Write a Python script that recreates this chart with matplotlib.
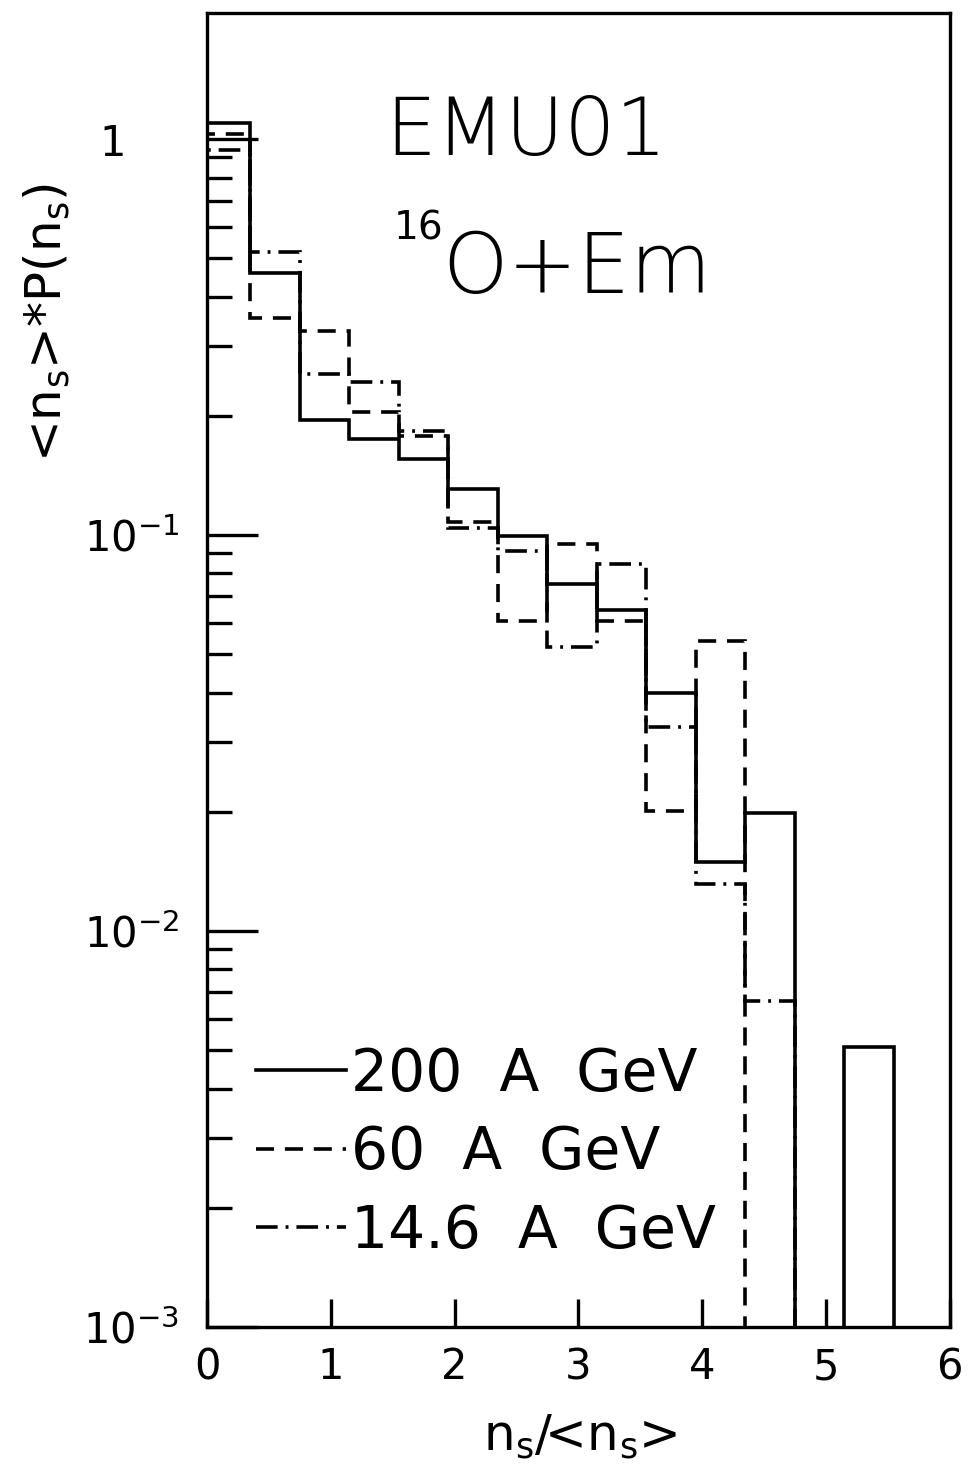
"""
EMU01 16O+Em: normalised shower-particle multiplicity distributions
"""

import numpy as np
import matplotlib
matplotlib.use('Agg')
import matplotlib.pyplot as plt
from matplotlib.ticker import FixedLocator, NullFormatter

plt.rcParams['font.family'] = ['DejaVu Sans']
plt.rcParams['mathtext.fontset'] = 'dejavusans'

# ── Data ───────────────────────────────────────────────────────
bin_edges = [0.0, 0.35, 0.75, 1.15, 1.55, 1.95, 2.35, 2.75, 3.15,
             3.55, 3.95, 4.35, 4.75, 5.15, 5.55]

p_200 = [1.10, 0.459, 0.195, 0.175, 0.156, 0.131, 0.0994, 0.0752,
         0.0647, 0.0399, 0.0149, 0.0199, 0.0, 0.0051]
p_60 = [1.03, 0.353, 0.327, 0.205, 0.178, 0.108, 0.0607, 0.0949,
        0.0607, 0.0201, 0.054, 0.0, 0.0, 0.0]
p_14 = [0.94, 0.519, 0.255, 0.243, 0.183, 0.104, 0.0911, 0.0521,
        0.0845, 0.0327, 0.01315, 0.00665, 0.0, 0.0]

labels = ['200  A  GeV', '60  A  GeV', '14.6  A  GeV']

ytick_vals = [1e-3, 1e-2, 1e-1, 1]
ytick_labels = ['$10^{-3}$', '$10^{-2}$', '$10^{-1}$', '1    ']
xtick_vals = [0, 1, 2, 3, 4, 5, 6]

# ── Figure ─────────────────────────────────────────────────────
fig = plt.figure(figsize=(9.68, 14.72), dpi=100)
ax = fig.add_axes([0.214, 0.0985, 0.767, 0.8925])

floor = 1e-5  # empty bins drawn below the axis
lw = 2.6


def draw(vals, ls, label, z):
    v = np.where(np.array(vals) > 0, vals, floor)
    return ax.stairs(v, bin_edges, baseline=floor, color='black',
                     linewidth=lw, linestyle=ls, label=label, zorder=z)


h1 = draw(p_200, '-', labels[0], 3)
h2 = draw(p_60, (0, (5, 3)), labels[1], 2)
h3 = draw(p_14, (0, (6, 2.2, 0.8, 2.2)), labels[2], 2)

ax.set_yscale('log')
ax.set_xlim(0, 6)
ax.set_ylim(1e-3, 2.08)

ax.xaxis.set_major_locator(FixedLocator(xtick_vals))
ax.set_xticklabels([str(v) for v in xtick_vals])
ax.set_yticks(ytick_vals)
ax.set_yticklabels(ytick_labels)
minor = [m * d for d in (1e-3, 1e-2, 1e-1) for m in range(2, 10)]
ax.yaxis.set_minor_locator(FixedLocator(minor))
ax.yaxis.set_minor_formatter(NullFormatter())

ax.tick_params(axis='y', which='major', direction='in', length=37,
               width=2.4, labelsize=30, pad=20, right=False)
ax.tick_params(axis='y', which='minor', direction='in', length=18,
               width=2.4, right=False)
ax.tick_params(axis='x', which='major', direction='in', length=20,
               width=2.4, labelsize=30, pad=14, top=False)
ax.tick_params(axis='x', which='minor', bottom=False, top=False)

for s in ax.spines.values():
    s.set_linewidth(2.4)

# Titles inside the frame
ax.text(0.43, 0.909, 'EMU01', transform=ax.transAxes, fontsize=58,
        ha='center', va='center', fontweight='light')
ax.text(0.285, 0.836, '16', transform=ax.transAxes, fontsize=28,
        ha='center', va='center')
ax.text(0.316, 0.805, 'O+Em', transform=ax.transAxes, fontsize=60,
        ha='left', va='center', fontweight='light')

# Legend
ax.legend(handles=[h1, h2, h3], loc='lower left',
          bbox_to_anchor=(0.026, 0.029), frameon=False, fontsize=42,
          handlelength=1.55, handletextpad=0.09, labelspacing=0.37,
          borderpad=0)

# Axis labels
fig.text(580 / 968, 1 - 1437 / 1472,
         r'n$_\mathrm{s}$/<n$_\mathrm{s}$>', fontsize=36,
         ha='center', va='center')
fig.text(47 / 968, 1 - 322 / 1472,
         r'<n$_\mathrm{s}$>*P(n$_\mathrm{s}$)', fontsize=36,
         ha='center', va='center', rotation=90)

plt.savefig('out.png', dpi=100)
plt.close()
